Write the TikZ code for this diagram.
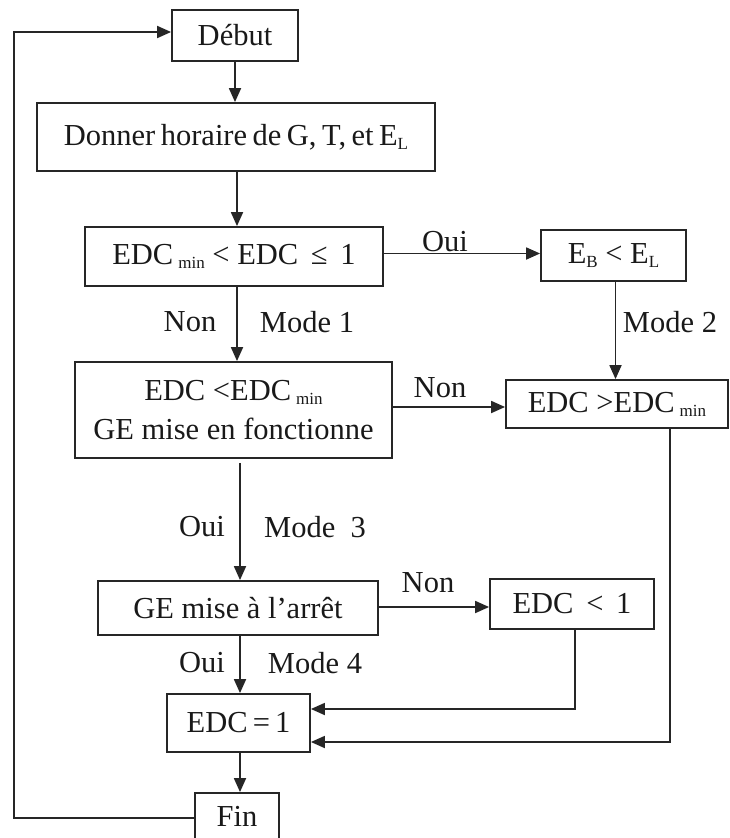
\documentclass[tikz,border=0pt]{standalone}
\usepackage{fontspec}
\setmainfont{Liberation Serif}
\usetikzlibrary{arrows.meta,calc}

% small lowered index, as in EDC_min or E_L
\newcommand{\lowsub}[1]{\raisebox{-0.3ex}{\fontsize{17}{17}\selectfont #1}}

\begin{document}
\begin{tikzpicture}[
    x=1pt, y=-1pt,
    every node/.style={font=\fontsize{30.5}{34}\selectfont, text=black!90},
    stepbox/.style={draw=black!85, line width=1.8pt, rectangle, inner sep=0pt, align=center},
    flow/.style={draw=black!85, line width=1.8pt, -{Triangle[length=14pt,width=12pt]}},
    tag/.style={inner sep=0pt}
  ]
  \useasboundingbox (0,0) rectangle (730,838);

  % boxes
  \node[stepbox, minimum width=126pt, minimum height=51pt] (debut)  at (235,35.5) {Début};
  \node[stepbox, minimum width=398pt, minimum height=68pt]
        (donner) at (236,137) {\spaceskip=0.18em\relax Donner horaire de G, T, et E\lowsub{L}};
  \node[stepbox, minimum width=298pt, minimum height=59pt] (test1)  at (234,256.5) {EDC\,\lowsub{min} < EDC\, ≤\, 1};
  \node[stepbox, minimum width=145pt, minimum height=51pt] (ebel)   at (613.5,255.5) {E\lowsub{B} < E\lowsub{L}};
  \node[stepbox, minimum width=317pt, minimum height=96pt] (test2)  at (233.5,410) {EDC <EDC\,\lowsub{min}\\[5pt]GE mise en fonctionne};
  \node[stepbox, minimum width=222pt, minimum height=48pt] (edcsup) at (617,404) {EDC >EDC\,\lowsub{min}};
  \node[stepbox, minimum width=280pt, minimum height=54pt] (ge)     at (238,608) {GE mise à l’arrêt};
  \node[stepbox, minimum width=164pt, minimum height=50pt] (edcinf) at (572,604) {EDC\, <\, 1};
  \node[stepbox, minimum width=143pt, minimum height=58pt] (edcone) at (238.5,723) {EDC\,=\,1};
  \node[stepbox, minimum width=84pt,  minimum height=46pt] (fin)    at (237,816) {Fin};

  % helper points for the bends
  \coordinate (loopbot) at (14,818);
  \coordinate (looptop) at (14,32);
  \coordinate (rin1) at (575,709);
  \coordinate (rin2) at (670,742);

  % connectors
  \draw[flow] (fin.west |- loopbot) -- (loopbot) -- (looptop) -- (debut.west |- looptop);
  \draw[flow] (debut.south) -- (donner.north -| debut.south);
  \draw[flow] (donner.south -| test1.north) ++(3,0) -- ($(test1.north)+(3,0)$);
  \draw[flow] ($(test1.east)+(0,-3)$) -- ($(ebel.west)+(0,-2)$);
  \draw[flow] ($(ebel.south)+(2,0)$) -- ($(ebel.south |- edcsup.north)+(2,0)$);
  \draw[flow] ($(test1.south)+(3,0)$) -- ($(test2.north -| test1.south)+(3,0)$);
  \draw[flow] ($(test2.east)+(0,-3)$) -- ($(edcsup.west)+(0,3)$);
  \draw[flow] ($(test2.south)+(6.5,4)$) -- ($(ge.north)+(2,0)$);
  \draw[flow] ($(ge.east)+(0,-1)$) -- ($(edcinf.west)+(0,3)$);
  \draw[flow] ($(ge.south)+(2,0)$) -- ($(edcone.north)+(1.5,0)$);
  \draw[flow] (edcinf.south -| rin1) -- (rin1) -- (edcone.east |- rin1);
  \draw[flow] (edcsup.south -| rin2) -- (rin2) -- (edcone.east |- rin2);
  \draw[flow] ($(edcone.south)+(1.5,0)$) -- ($(fin.north)+(3,0)$);

  % branch labels
  \node[tag] (l1) at (445,242) {Oui};
  \node[tag] (l2) at (190,322) {Non};
  \node[tag] (l3) at (307,322) {Mode 1};
  \node[tag] (l4) at (670,322) {Mode 2};
  \node[tag] (l5) at (440,388) {Non};
  \node[tag] (l6) at (202,527) {Oui};
  \node[tag] (l7) at (315,527) {Mode\ \ 3};
  \node[tag] (l8) at (428,583) {Non};
  \node[tag] (l9) at (202,663) {Oui};
  \node[tag] (l10) at (315,663) {Mode 4};
\end{tikzpicture}
\end{document}
